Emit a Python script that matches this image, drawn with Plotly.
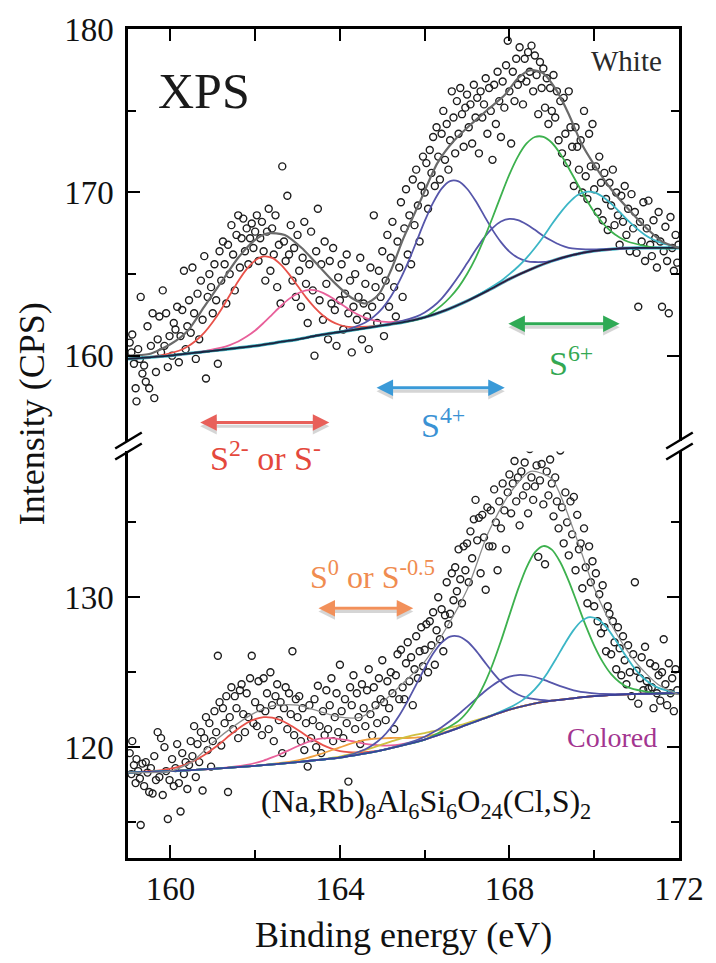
import plotly.graph_objects as go

# ---------------- TOP PANEL ("White") ----------------
TOP_PTS_X = [159.04,159.08,159.10,159.14,159.18,159.20,159.24,159.28,159.30,159.34,159.38,159.42,159.46,159.50,159.54,159.58,159.62,159.66,159.70,159.74,159.78,159.82,159.86,159.90,159.94,159.98,
160.04,160.08,160.12,160.16,160.20,160.24,160.28,160.32,160.36,160.40,160.44,160.48,160.52,160.56,160.60,160.64,160.68,160.72,160.76,160.80,160.84,160.88,160.92,160.96,
161.00,161.04,161.08,161.12,161.16,161.20,161.24,161.28,161.32,161.36,161.40,161.44,161.48,161.52,161.56,161.60,161.64,161.68,161.72,161.76,161.80,161.84,161.88,161.92,161.96,
162.00,162.04,162.08,162.12,162.16,162.20,162.24,162.28,162.32,162.36,162.40,162.44,162.48,162.52,162.56,162.60,162.64,162.68,162.72,162.76,162.80,162.84,162.88,162.92,162.96,
163.00,163.04,163.08,163.12,163.16,163.20,163.24,163.28,163.32,163.36,163.40,163.44,163.48,163.52,163.56,163.60,163.64,163.68,163.72,163.76,163.80,163.84,163.88,163.92,163.96,
164.00,164.04,164.08,164.12,164.16,164.20,164.24,164.28,164.32,164.36,164.40,164.44,164.48,164.52,164.56,164.60,164.64,164.68,164.72,164.76,164.80,164.84,164.88,164.92,164.96,
165.00,165.04,165.08,165.12,165.16,165.20,165.24,165.28,165.32,165.36,165.40,165.44,165.48,165.52,165.56,165.60,165.64,165.68,165.72,165.76,165.80,165.84,165.88,165.92,165.96,
166.00,166.04,166.08,166.12,166.16,166.20,166.24,166.28,166.32,166.36,166.40,166.44,166.48,166.52,166.56,166.60,166.64,166.68,166.72,166.76,166.80,166.84,166.88,166.92,166.96,
167.00,167.04,167.08,167.12,167.16,167.20,167.24,167.28,167.32,167.36,167.40,167.44,167.48,167.52,167.56,167.60,167.64,167.68,167.72,167.76,167.80,167.84,167.88,167.92,167.96,
168.00,168.04,168.08,168.12,168.16,168.20,168.24,168.28,168.32,168.36,168.40,168.44,168.48,168.52,168.56,168.60,168.64,168.68,168.72,168.76,168.80,168.84,168.88,168.92,168.96,
169.00,169.04,169.08,169.12,169.16,169.20,169.24,169.28,169.32,169.36,169.40,169.44,169.48,169.52,169.56,169.60,169.64,169.68,169.72,169.76,169.80,169.84,169.88,169.92,169.96,
170.00,170.04,170.08,170.12,170.16,170.20,170.24,170.28,170.32,170.36,170.40,170.44,170.48,170.52,170.56,170.60,170.64,170.68,170.72,170.76,170.80,170.84,170.88,170.92,170.96,
171.00,171.04,171.08,171.12,171.16,171.20,171.24,171.28,171.32,171.36,171.40,171.44,171.48,171.52,171.56,171.60,171.64,171.68,171.72,171.76,171.80,171.84,171.88,171.92,171.96,171.99]
TOP_PTS_Y = [160.8,160.2,161.3,159.5,158.0,157.2,160.4,159.8,163.6,158.9,159.4,158.4,161.8,158.0,160.6,162.6,157.4,159.0,161.0,162.4,160.2,164.0,160.6,162.6,159.3,161.2,
160.0,162.0,161.6,163.0,159.6,161.2,162.8,165.2,160.4,161.8,163.4,161.4,165.4,162.6,159.8,163.8,161.0,164.6,162.2,166.1,158.6,163.6,165.0,164.2,
162.6,165.6,163.4,159.5,166.4,164.6,167.0,165.6,163.2,166.8,165.0,168.0,166.2,164.0,167.4,168.6,165.4,167.2,168.4,166.4,167.8,165.6,167.2,168.1,166.6,
167.6,168.6,165.8,167.2,168.2,166.4,164.6,167.6,169.0,165.2,167.8,166.2,168.6,164.2,166.8,163.2,171.6,167.0,165.8,169.8,166.2,168.0,164.6,166.6,163.6,
167.4,165.2,163.0,166.0,168.2,164.4,162.0,165.6,167.6,164.0,160.0,166.4,169.0,163.4,165.6,162.2,167.0,164.4,161.0,165.8,163.2,166.6,162.8,160.6,164.8,
163.4,165.6,161.6,163.8,166.2,162.6,164.6,160.2,163.0,165.0,162.2,163.6,166.0,161.0,163.2,164.4,162.4,160.4,165.4,163.0,168.6,164.2,162.0,165.2,163.6,
166.4,161.2,164.6,167.4,163.0,166.0,168.2,164.2,162.4,167.0,165.4,169.4,163.6,167.8,170.2,166.2,168.6,165.6,170.8,168.0,171.4,169.2,167.0,170.4,172.2,
170.0,171.8,169.0,172.6,171.2,173.4,170.4,174.0,172.2,170.8,173.6,175.0,172.0,174.2,171.4,173.2,176.2,174.6,172.4,175.6,173.6,176.4,174.8,172.8,175.2,
176.0,174.0,175.4,173.0,176.6,174.6,175.8,172.4,176.2,174.6,175.4,177.0,173.6,176.4,175.0,172.0,176.6,174.2,177.4,175.6,173.4,176.8,175.2,177.8,179.3,
176.2,173.0,177.4,175.6,178.2,176.6,178.9,177.0,175.4,178.2,176.8,178.6,177.4,179.0,176.2,178.4,177.2,174.8,178.0,176.4,177.6,175.2,177.0,174.2,176.4,
175.0,177.2,174.6,176.2,173.2,175.6,172.4,175.8,173.6,171.8,176.2,174.0,172.8,170.4,174.0,172.8,171.4,173.2,170.0,175.0,171.0,169.6,173.6,171.6,174.2,
170.2,171.6,168.8,172.2,170.6,168.3,171.2,169.6,167.7,170.6,169.2,171.4,168.0,170.0,168.6,166.8,169.8,168.2,170.4,167.4,169.0,166.4,169.9,167.8,168.8,
166.3,163.0,168.2,167.0,169.4,165.8,167.8,169.5,166.8,166.1,168.3,167.2,165.4,168.8,167.0,163.0,166.4,167.9,165.8,162.6,168.5,166.6,165.2,167.4,165.7,166.8]

TOP_ENV_X = [159.0,159.5,160.0,160.4,160.8,161.2,161.6,162.0,162.3,162.7,163.1,163.5,163.9,164.3,164.6,164.9,165.2,165.5,165.9,166.3,166.7,167.1,167.5,167.9,168.2,168.5,168.8,169.1,169.4,169.7,170.0,170.4,170.8,171.2,171.6,172.0]
TOP_ENV_Y = [160.0,160.1,160.7,161.5,163.0,164.5,166.0,167.1,167.5,167.4,166.6,165.5,164.4,163.5,163.2,163.7,165.2,167.2,169.5,171.8,173.2,174.2,175.1,176.0,177.0,177.5,177.3,176.3,174.8,173.0,171.7,170.2,169.0,167.9,167.0,166.6]

TOP_BASE_X = [159.0,159.5,160.0,160.5,161.0,161.5,162.0,162.5,163.0,163.5,164.0,164.5,165.0,165.5,166.0,166.5,167.0,167.5,168.0,168.5,169.0,169.5,170.0,170.5,171.0,171.5,172.0]
TOP_BASE_Y = [159.80,159.90,160.00,160.15,160.30,160.45,160.60,160.80,161.00,161.25,161.45,161.65,161.85,162.05,162.35,162.79,163.35,164.00,164.70,165.29,165.80,166.17,166.42,166.55,166.60,166.60,166.60]

TOP_RED_X = [160.2,160.4,160.6,160.8,161.0,161.2,161.4,161.6,161.8,162.0,162.2,162.4,162.6,162.8,163.0,163.2,163.4,163.6,163.8,164.0,164.2]
TOP_RED_Y = [160.30,160.55,160.91,161.41,162.06,162.83,163.70,164.56,165.30,165.83,166.08,165.99,165.60,165.00,164.28,163.57,162.96,162.46,162.10,161.88,161.77]
TOP_PINK_X = [161.2,161.4,161.6,161.8,162.0,162.2,162.4,162.6,162.8,163.0,163.2,163.4,163.6,163.8,164.0,164.2,164.4,164.6,164.8,165.0,165.2]
TOP_PINK_Y = [160.49,160.65,160.87,161.17,161.54,162.01,162.52,163.03,163.48,163.81,164.00,164.01,163.85,163.56,163.21,162.86,162.55,162.32,162.16,162.08,162.06]
TOP_BLUE1_X = [164.6,164.8,165.0,165.2,165.4,165.6,165.8,166.0,166.2,166.4,166.6,166.8,167.0,167.2,167.4,167.6,167.8,168.0,168.2,168.4,168.6]
TOP_BLUE1_Y = [162.03,162.39,162.90,163.61,164.55,165.67,166.95,168.24,169.38,170.24,170.70,170.68,170.23,169.49,168.60,167.71,166.96,166.38,166.00,165.80,165.74]
TOP_BLUE2_X = [165.8,166.0,166.2,166.4,166.6,166.8,167.0,167.2,167.4,167.6,167.8,168.0,168.2,168.4,168.6,168.8,169.0,169.2,169.4,169.6,169.8]
TOP_BLUE2_Y = [162.39,162.65,163.01,163.50,164.14,164.86,165.66,166.47,167.22,167.82,168.22,168.38,168.30,168.05,167.71,167.34,167.04,166.78,166.61,166.54,166.51]
TOP_GREEN_X = [166.4,166.6,166.8,167.0,167.2,167.4,167.6,167.8,168.0,168.2,168.4,168.6,168.8,169.0,169.2,169.4,169.6,169.8,170.0,170.2,170.4,170.6,170.8]
TOP_GREEN_Y = [163.08,163.58,164.20,165.00,165.98,167.16,168.45,169.81,171.11,172.20,172.99,173.40,173.41,173.05,172.37,171.49,170.55,169.63,168.80,168.13,167.61,167.24,166.98]
TOP_CYAN_X = [167.8,168.0,168.2,168.4,168.6,168.8,169.0,169.2,169.4,169.6,169.8,170.0,170.2,170.4,170.6,170.8,171.0,171.2,171.4,171.6,171.8]
TOP_CYAN_Y = [164.58,165.00,165.45,165.98,166.60,167.29,168.05,168.75,169.36,169.83,170.04,170.01,169.74,169.32,168.81,168.27,167.80,167.40,167.10,166.90,166.76]

# ---------------- BOTTOM PANEL ("Colored") ----------------
BOT_PTS_X = TOP_PTS_X[:-1]
BOT_PTS_Y = [119.6,118.2,120.4,118.8,117.6,119.2,118.4,117.9,114.8,118.9,117.4,119.0,118.3,117.0,118.6,116.9,119.4,117.8,121.0,118.0,120.6,116.8,120.0,118.4,115.2,
117.8,119.2,117.4,118.6,120.2,117.6,115.7,119.6,118.2,119.0,117.2,118.8,120.4,119.4,121.4,118.0,120.2,119.0,121.0,117.1,120.6,122.0,119.8,121.6,118.7,
120.4,122.4,121.0,126.1,123.0,120.1,122.6,121.6,123.4,117.0,122.0,124.0,121.2,123.4,122.6,120.6,123.8,124.2,122.2,121.0,123.6,122.0,124.6,126.1,121.6,
123.0,121.4,124.4,122.6,120.8,124.6,122.4,123.6,121.2,125.0,122.8,120.4,123.4,124.2,121.8,123.0,119.6,122.6,124.0,121.2,123.6,122.2,126.4,120.8,123.2,
122.0,123.4,120.4,122.6,119.8,121.6,118.7,122.8,120.6,121.8,123.2,120.0,124.1,121.4,119.6,122.4,120.8,123.8,121.2,122.8,124.6,120.4,122.0,123.6,121.0,
125.5,122.4,120.6,123.2,121.6,117.7,124.0,122.8,124.8,121.2,123.6,122.0,120.2,124.2,122.6,121.4,123.8,125.2,122.2,120.8,124.0,122.8,121.6,124.6,123.2,
125.8,123.0,121.8,124.4,122.6,125.0,123.6,121.2,124.8,126.2,123.2,126.5,124.0,123.2,125.6,127.0,124.4,126.0,122.8,125.2,127.4,124.6,126.4,128.0,125.4,
126.5,128.2,125.0,128.4,126.8,129.0,125.5,127.8,130.0,127.2,129.2,126.4,128.8,131.0,128.2,128.9,131.6,129.8,132.0,130.4,133.2,131.2,129.6,133.4,131.8,
133.6,131.0,134.4,132.6,135.2,136.5,133.8,135.3,131.6,135.5,134.0,130.5,136.0,133.4,135.8,133.4,137.2,135.0,131.8,136.4,134.6,137.6,135.8,133.2,137.0,
138.2,135.6,137.6,139.1,136.4,138.0,134.8,138.4,136.8,139.0,137.4,135.6,139.9,138.0,136.5,137.4,138.8,132.7,137.8,138.9,136.2,132.2,138.4,136.8,139.2,
137.6,135.4,138.0,136.4,134.6,139.8,136.0,133.6,137.0,135.0,132.8,136.4,134.2,136.7,131.8,135.5,133.2,133.6,130.6,134.6,132.0,129.6,133.4,131.0,132.4,
129.4,131.6,128.4,130.2,127.6,130.8,128.0,126.4,129.4,128.9,126.2,128.4,127.0,125.2,128.0,126.6,124.8,127.4,125.8,124.2,126.8,125.0,123.4,126.2,131.0,
125.1,122.9,124.6,126.0,123.8,126.7,124.4,123.9,125.6,124.0,122.6,125.4,123.6,124.8,123.1,125.0,127.2,124.2,122.8,125.6,123.6,124.6,122.4,125.2,123.8]

BOT_ENV_X = [159.0,159.5,160.0,160.5,161.0,161.5,162.0,162.5,163.0,163.5,164.0,164.5,165.0,165.5,166.0,166.5,167.0,167.5,168.0,168.5,169.0,169.5,170.0,170.5,171.0,171.5,172.0]
BOT_ENV_Y = [118.3,118.3,118.4,119.0,120.3,121.4,122.3,122.8,122.8,122.4,122.0,122.0,123.0,124.3,125.7,127.9,130.5,134.3,136.9,138.4,137.9,134.6,130.6,127.7,125.6,124.2,123.5]

BOT_BASE_X = TOP_BASE_X
BOT_BASE_Y = [118.30,118.35,118.40,118.47,118.55,118.65,118.75,118.87,119.00,119.15,119.30,119.53,119.80,120.13,120.50,120.98,121.50,122.02,122.50,122.86,123.10,123.26,123.40,123.49,123.55,123.58,123.60]

BOT_RED_X = [159.8,160.0,160.2,160.4,160.6,160.8,161.0,161.2,161.4,161.6,161.8,162.0,162.2,162.4,162.6,162.8,163.0,163.2,163.4,163.6,163.8,164.0,164.2,164.4,164.6]
BOT_RED_Y = [118.47,118.56,118.70,118.89,119.15,119.47,119.87,120.31,120.79,121.23,121.61,121.87,122.00,121.97,121.80,121.51,121.16,120.78,120.44,120.13,119.90,119.73,119.66,119.64,119.67]
BOT_PINK_X = [161.6,161.8,162.0,162.2,162.4,162.6,162.8,163.0,163.2,163.4,163.6,163.8,164.0,164.2,164.4,164.6,164.8,165.0,165.2,165.4,165.6]
BOT_PINK_Y = [118.73,118.82,118.94,119.10,119.31,119.54,119.80,120.06,120.29,120.48,120.58,120.60,120.53,120.45,120.33,120.22,120.15,120.10,120.12,120.17,120.26]
BOT_ORANGE_X = [162.6,162.8,163.0,163.2,163.4,163.6,163.8,164.0,164.2,164.4,164.6,164.8,165.0,165.2,165.4,165.6,165.8,166.0,166.2,166.4,166.6]
BOT_ORANGE_Y = [118.94,119.02,119.12,119.25,119.41,119.59,119.79,119.98,120.18,120.35,120.48,120.56,120.59,120.61,120.61,120.61,120.64,120.69,120.81,120.95,121.12]
BOT_YELLOW_X = [163.6,163.8,164.0,164.2,164.4,164.6,164.8,165.0,165.2,165.4,165.6,165.8,166.0,166.2,166.4,166.6,166.8,167.0,167.2,167.4,167.6]
BOT_YELLOW_Y = [119.20,119.28,119.37,119.50,119.64,119.81,119.99,120.18,120.37,120.54,120.70,120.83,120.94,121.07,121.18,121.31,121.45,121.61,121.78,121.96,122.14]
BOT_BLUE1_X = [164.6,164.8,165.0,165.2,165.4,165.6,165.8,166.0,166.2,166.4,166.6,166.8,167.0,167.2,167.4,167.6,167.8,168.0,168.2,168.4,168.6]
BOT_BLUE1_Y = [119.86,120.19,120.65,121.29,122.11,123.09,124.17,125.26,126.25,126.98,127.38,127.39,127.06,126.47,125.74,125.01,124.37,123.86,123.51,123.30,123.20]
BOT_BLUE2_X = [165.8,166.0,166.2,166.4,166.6,166.8,167.0,167.2,167.4,167.6,167.8,168.0,168.2,168.4,168.6,168.8,169.0,169.2,169.4,169.6,169.8,170.0,170.2]
BOT_BLUE2_Y = [120.46,120.69,120.99,121.33,121.74,122.19,122.69,123.19,123.68,124.11,124.47,124.70,124.81,124.79,124.68,124.50,124.29,124.07,123.89,123.74,123.65,123.59,123.55]
BOT_GREEN_X = [166.8,167.0,167.2,167.4,167.6,167.8,168.0,168.2,168.4,168.6,168.8,169.0,169.2,169.4,169.6,169.8,170.0,170.2,170.4,170.6,170.8]
BOT_GREEN_Y = [121.75,122.33,123.11,124.17,125.50,127.08,128.81,130.51,131.97,133.00,133.42,133.18,132.34,131.08,129.60,128.11,126.78,125.69,124.87,124.33,123.99]
BOT_CYAN_X = [167.9,168.1,168.3,168.5,168.7,168.9,169.1,169.3,169.5,169.7,169.9,170.1,170.3,170.5,170.7,170.9,171.1,171.3,171.5,171.7,171.9]
BOT_CYAN_Y = [122.50,122.78,123.12,123.58,124.19,124.97,125.90,126.87,127.76,128.41,128.68,128.51,127.96,127.16,126.28,125.45,124.78,124.29,123.97,123.79,123.69]

# axis settings (values)
X_RANGE = [159, 172.001]
TOP_Y_RANGE = [154.8, 180.02]
BOT_Y_RANGE = [112.6, 139.73]

C_RED = "#e8524a"
C_PINK = "#e8609a"
C_BLUE = "#5656aa"
C_GREEN = "#3db14e"
C_CYAN = "#3cb6c6"
C_ORANGE = "#f0a040"
C_YELLOW = "#cfc040"
SERIF = "Liberation Serif, Times New Roman, DejaVu Serif, serif"

fig = go.Figure()


def full_curve(cx, cy, bx, by):
    lx = [x for x in bx if x < cx[0] - 0.3]
    ly = [y for x, y in zip(bx, by) if x < cx[0] - 0.3]
    rx = [x for x in bx if x > cx[-1] + 0.3]
    ry = [y for x, y in zip(bx, by) if x > cx[-1] + 0.3]
    return lx + list(cx) + rx, ly + list(cy) + ry


def add_line(x, y, color, width, xa, ya, smooth=0.8):
    fig.add_trace(go.Scatter(x=x, y=y, mode="lines", xaxis=xa, yaxis=ya,
                             line=dict(color=color, width=width, shape="spline", smoothing=smooth),
                             hoverinfo="skip", showlegend=False))


def add_points(x, y, xa, ya):
    fig.add_trace(go.Scatter(x=x, y=y, mode="markers", xaxis=xa, yaxis=ya,
                             marker=dict(symbol="circle-open", size=7, color="#1e1e1e",
                                         line=dict(width=1.4, color="#1e1e1e")),
                             hoverinfo="skip", showlegend=False))


# top panel
add_points(TOP_PTS_X, TOP_PTS_Y, "x2", "y")
add_line(TOP_BASE_X, TOP_BASE_Y, "#3cb6c6", 3.2, "x2", "y")
for cx, cy, col in [(TOP_RED_X, TOP_RED_Y, C_RED), (TOP_PINK_X, TOP_PINK_Y, C_PINK),
                    (TOP_BLUE1_X, TOP_BLUE1_Y, C_BLUE), (TOP_BLUE2_X, TOP_BLUE2_Y, C_BLUE),
                    (TOP_GREEN_X, TOP_GREEN_Y, C_GREEN), (TOP_CYAN_X, TOP_CYAN_Y, C_CYAN)]:
    fx, fy = full_curve(cx, cy, TOP_BASE_X, TOP_BASE_Y)
    add_line(fx, fy, col, 1.8, "x2", "y")
add_line(TOP_BASE_X, TOP_BASE_Y, "#1b2240", 1.8, "x2", "y")
add_line(TOP_ENV_X, TOP_ENV_Y, "#6a6a6a", 2.2, "x2", "y", 0.7)

# bottom panel
add_points(BOT_PTS_X, BOT_PTS_Y, "x", "y2")
for cx, cy, col in [(BOT_RED_X, BOT_RED_Y, C_RED), (BOT_PINK_X, BOT_PINK_Y, C_PINK),
                    (BOT_ORANGE_X, BOT_ORANGE_Y, C_ORANGE), (BOT_YELLOW_X, BOT_YELLOW_Y, C_YELLOW),
                    (BOT_BLUE1_X, BOT_BLUE1_Y, C_BLUE), (BOT_BLUE2_X, BOT_BLUE2_Y, C_BLUE),
                    (BOT_GREEN_X, BOT_GREEN_Y, C_GREEN), (BOT_CYAN_X, BOT_CYAN_Y, C_CYAN)]:
    fx, fy = full_curve(cx, cy, BOT_BASE_X, BOT_BASE_Y)
    add_line(fx, fy, col, 1.8, "x", "y2")
add_line(BOT_BASE_X, BOT_BASE_Y, "#3a3f98", 1.8, "x", "y2")
add_line(BOT_ENV_X, BOT_ENV_Y, "#8c8c8c", 1.3, "x", "y2", 0.7)

tickfont = dict(family=SERIF, size=33, color="#111")
axis_common = dict(showline=True, linecolor="black", linewidth=2.5, showgrid=False, zeroline=False,
                   ticks="inside", tickcolor="black", tickwidth=2.2, tickfont=tickfont)

fig.update_layout(
    width=716, height=963,
    margin=dict(l=128, r=28, t=28, b=105),
    paper_bgcolor="white", plot_bgcolor="white",
    showlegend=False,
    font=dict(family=SERIF, color="#111"),
    xaxis=dict(axis_common, domain=[0, 1], anchor="y2", range=X_RANGE, side="bottom",
               tickmode="array", tickvals=[160, 164, 168, 172], ticklen=13,
               minor=dict(tickvals=[162, 166, 170], ticklen=8, tickwidth=2.2, ticks="inside", tickcolor="black")),
    xaxis2=dict(axis_common, domain=[0, 1], anchor="y", range=X_RANGE, side="top",
                tickmode="array", tickvals=[160, 162, 164, 166, 168, 170], ticklen=12,
                showticklabels=False),
    yaxis=dict(axis_common, domain=[0.50361, 1], anchor="x2", range=TOP_Y_RANGE, mirror="ticks",
               tickmode="array", tickvals=[160, 170, 180], ticklen=12, ticklabelstandoff=5,
               minor=dict(tickvals=[165, 175], ticklen=8, tickwidth=2.2, ticks="inside", tickcolor="black")),
    yaxis2=dict(axis_common, domain=[0, 0.49036], anchor="x", range=BOT_Y_RANGE, mirror="ticks",
                tickmode="array", tickvals=[120, 130], ticklen=12, ticklabelstandoff=5,
                minor=dict(tickvals=[115, 125, 135], ticklen=8, tickwidth=2.2, ticks="inside", tickcolor="black")),
)

# axis break marks
shapes = []
for x0, x1 in [(-0.02321, 0.025), (0.97679, 1.025)]:
    shapes.append(dict(type="line", xref="paper", yref="paper", x0=x0, y0=0.49398, x1=x1, y1=0.51325,
                       line=dict(color="black", width=2.5)))
    shapes.append(dict(type="line", xref="paper", yref="paper", x0=x0, y0=0.48072, x1=x1, y1=0.50000,
                       line=dict(color="black", width=2.5)))
fig.update_layout(shapes=shapes)

ann = []
# range arrows (soft shadow + arrow)
for xa, ya, xs, xe, yv, col, dy in [("x2", "y", 160.67, 163.75, 155.9, "#e8605a", 0.22),
                                     ("x2", "y", 164.83, 167.89, 158.04, "#3a9ad8", 0.22),
                                     ("x2", "y", 167.94, 170.60, 161.96, "#2faa55", 0.22),
                                     ("x", "y2", 163.46, 165.73, 129.27, "#f2905a", 0.22)]:
    for yy, cc in [(yv - dy, "rgba(120,120,120,0.30)"), (yv, col)]:
        ann.append(dict(xref=xa, yref=ya, axref=xa, ayref=ya, x=xe, y=yy, ax=xs, ay=yy,
                        text="", showarrow=True, arrowside="end+start", arrowhead=2, startarrowhead=2,
                        arrowsize=1.1, startarrowsize=1.1, arrowwidth=3, arrowcolor=cc))


def txt(x, y, s, size, color="#111", angle=0):
    ann.append(dict(xref="paper", yref="paper", x=x, y=y, text=s, showarrow=False,
                    xanchor="center", yanchor="middle", textangle=angle,
                    font=dict(family=SERIF, size=size, color=color)))


txt(0.1375, 0.9253, "XPS", 50, "#1a1a1a")
txt(0.9054, 0.9614, "White", 29, "#2a2a2a")
txt(0.25, 0.4855, "S<sup>2-</sup> or S<sup>-</sup>", 34, "#e4483c")
txt(0.5714, 0.5253, "S<sup>4+</sup>", 34, "#3a92d4")
txt(0.8036, 0.6000, "S<sup>6+</sup>", 34, "#33a852")
txt(0.4429, 0.3410, "S<sup>0</sup> or S<sup>-0.5</sup>", 32, "#f08c50")
txt(0.8786, 0.1458, "Colored", 28, "#a33590")
txt(0.541, 0.0663, "(Na,Rb)<sub>8</sub>Al<sub>6</sub>Si<sub>6</sub>O<sub>24</sub>(Cl,S)<sub>2</sub>", 32, "#111")
txt(0.5, -0.0928, "Binding energy (eV)", 36, "#111")
txt(-0.175, 0.536, "Intensity (CPS)", 36, "#111", -90)
fig.update_layout(annotations=ann)

fig.write_html("out.html")
